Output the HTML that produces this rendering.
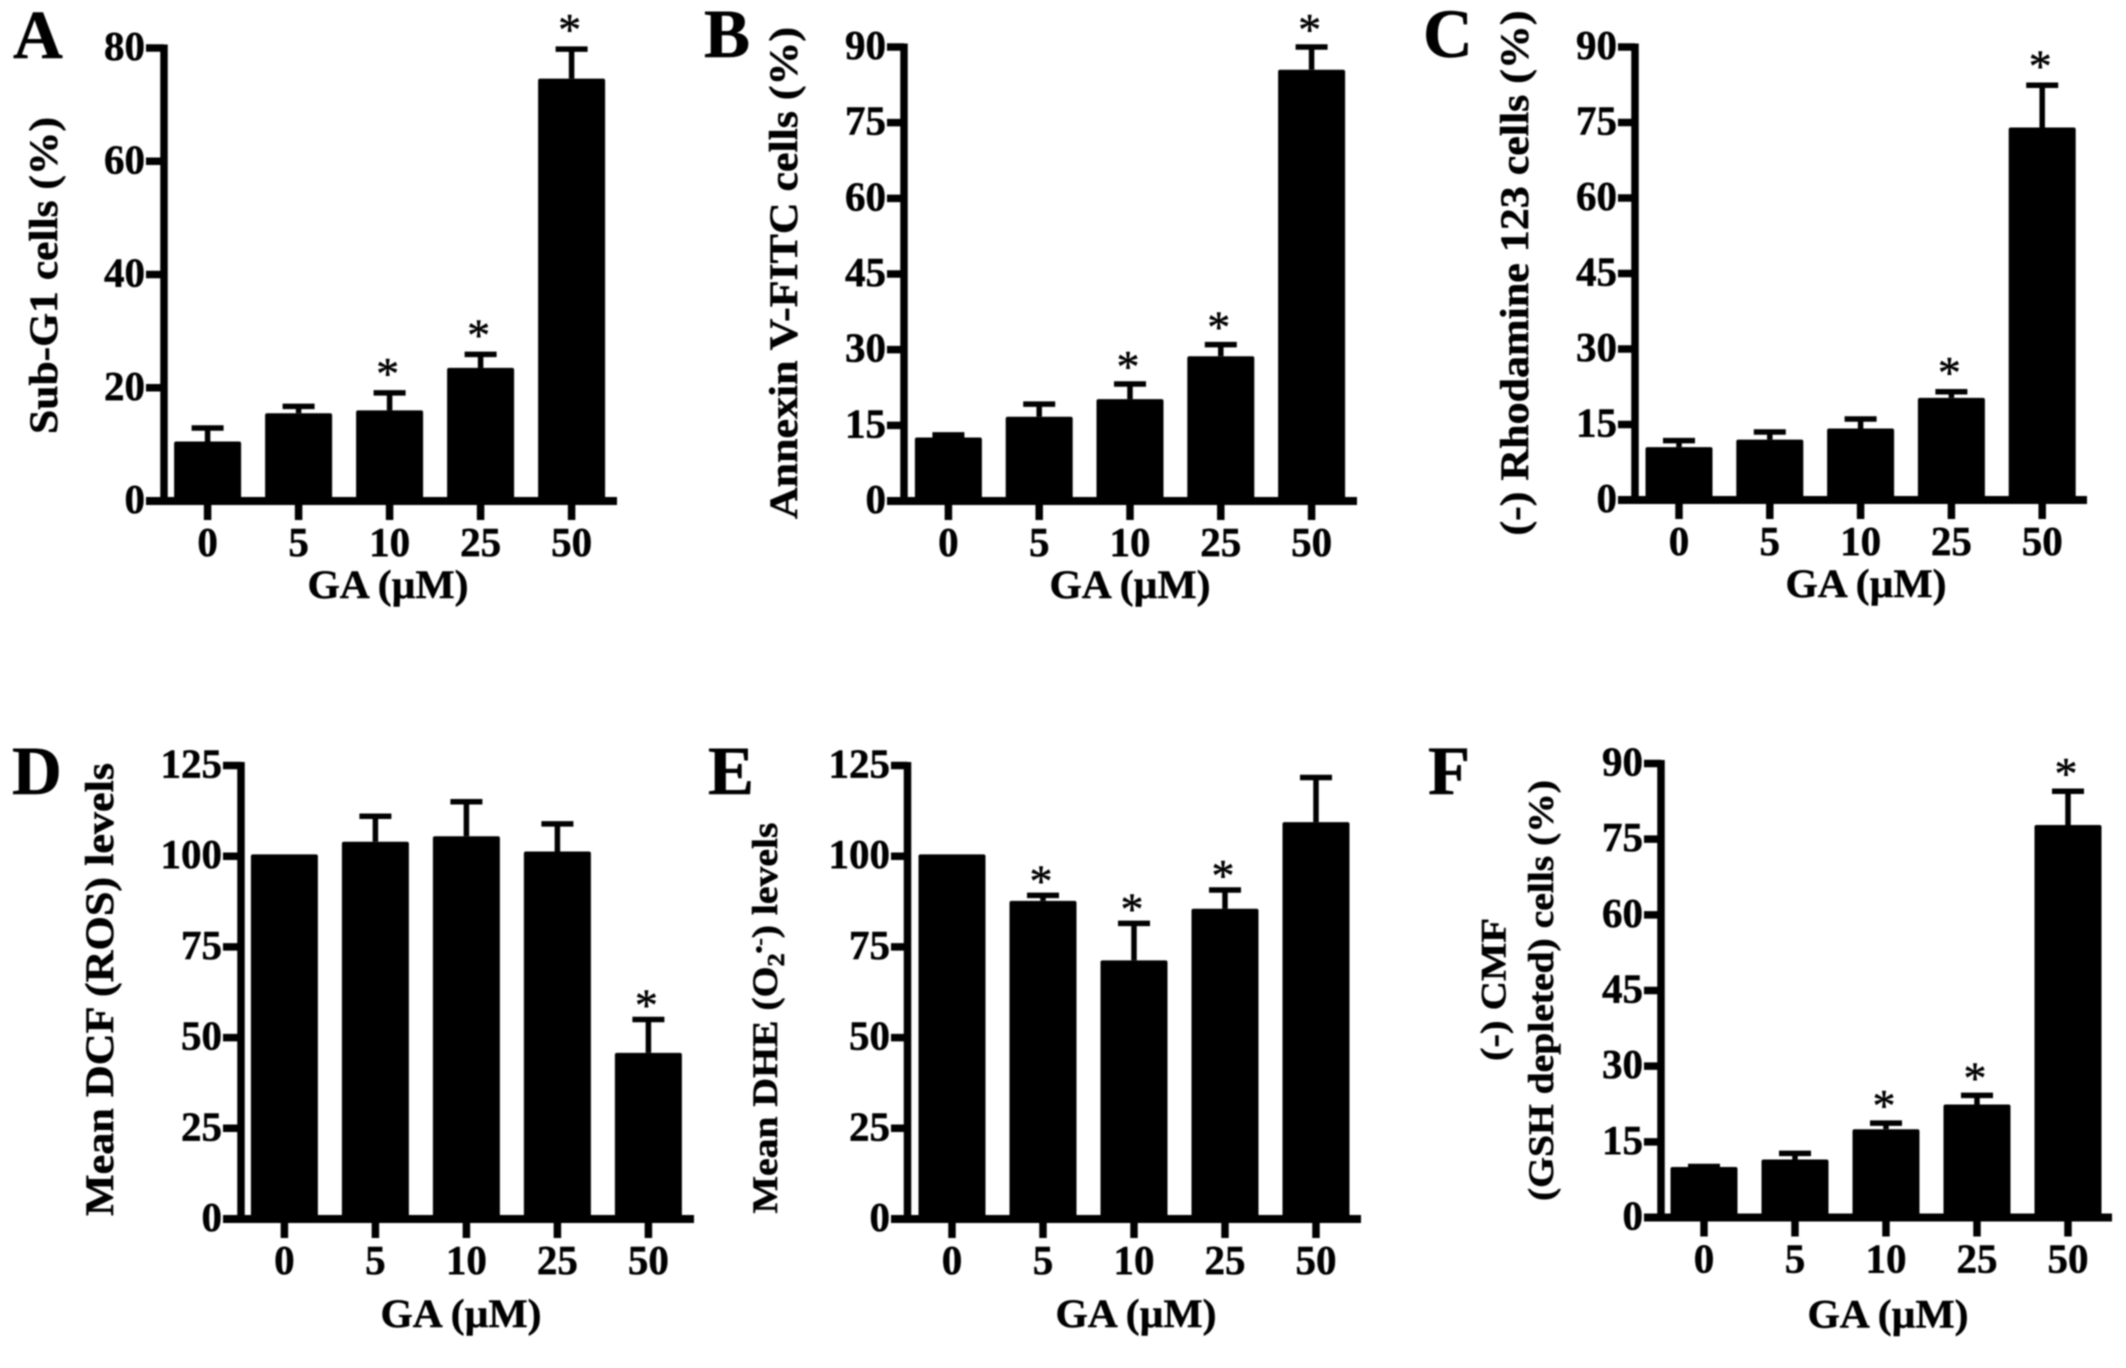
<!DOCTYPE html>
<html lang="en">
<head>
<meta charset="utf-8">
<title>GA dose-response bar charts</title>
<style>
html,body{margin:0;padding:0;background:#fff;}
svg{display:block;filter:blur(0.7px);}
text{font-family:"Liberation Serif",serif;font-weight:bold;fill:#000;stroke:#000;stroke-width:0.5px;}
</style>
</head>
<body>
<svg id="figure" xmlns="http://www.w3.org/2000/svg" width="2126" height="1368" viewBox="0 0 2126 1368"></svg>
<script>
const categories = ["0", "5", "10", "25", "50"];

const panelAValues = [10.5, 15.5, 16, 23.5, 74.6];
const panelAErrors = [2.4, 1.2, 3.1, 2.4, 5.2];
const panelAStars = [false, false, true, true, true];
const panelATicks = [0, 20, 40, 60, 80];

const panelBValues = [12.6, 16.7, 20.2, 28.7, 85.5];
const panelBErrors = [0.5, 2.5, 3.0, 2.3, 4.5];
const panelBStars = [false, false, true, true, true];
const panelBTicks = [0, 15, 30, 45, 60, 75, 90];

const panelCValues = [10.5, 12, 14.2, 20.3, 74];
const panelCErrors = [1.3, 1.5, 1.9, 1.2, 8.4];
const panelCStars = [false, false, false, true, true];
const panelCTicks = [0, 15, 30, 45, 60, 75, 90];

const panelDValues = [100.5, 104, 105.5, 101.3, 45.8];
const panelDErrors = [0, 7, 9.5, 7.6, 9.2];
const panelDStars = [false, false, false, false, true];
const panelDTicks = [0, 25, 50, 75, 100, 125];

const panelEValues = [100.5, 87.7, 71.3, 85.5, 109.4];
const panelEErrors = [0, 1.5, 10.2, 5.2, 12.3];
const panelEStars = [false, true, true, true, false];
const panelETicks = [0, 25, 50, 75, 100, 125];

const panelFValues = [10, 11.5, 17.5, 22.4, 77.8];
const panelFErrors = [0.1, 1.2, 1.2, 1.8, 6.7];
const panelFStars = [false, false, true, true, true];
const panelFTicks = [0, 15, 30, 45, 60, 75, 90];

const NS = "http://www.w3.org/2000/svg";
const root = document.getElementById("figure");

function make(tag, parent, attrs, content) {
  const el = document.createElementNS(NS, tag);
  for (const k in attrs) el.setAttribute(k, attrs[k]);
  if (content !== undefined) el.textContent = content;
  parent.appendChild(el);
  return el;
}

function drawPanel(p) {
  const g = make("g", root, {});
  
  

  const maxTick = p.ticks[p.ticks.length - 1];
  const yScale = v => p.base - (v / maxTick) * (p.base - p.top);
  const xScale = i => p.first + i * p.step;

  const letter = make("text", g, {x: p.letterX, y: p.letterY, "font-size": 69}, p.letter);
  
  

  p.values.forEach((v, i) => {
    const cx = xScale(i);
    const y = yScale(v);
    const bar = make("rect", g, {x: cx - 33.5, y: y, width: 67, height: p.base - y, rx: 2, fill: "#000"});
    
    
    const errTop = yScale(v + p.errors[i]);
    if (p.errors[i] > 0) {
      const stem = make("line", g, {x1: cx, x2: cx, y1: y, y2: errTop, stroke: "#000", "stroke-width": 5.5});
      
      
      const cap = make("line", g, {x1: cx - 16, x2: cx + 16, y1: errTop, y2: errTop, stroke: "#000", "stroke-width": 5.5});
      
      
    }
    if (p.stars[i]) {
      const star = make("text", g, {x: cx - 2, y: errTop - p.starGap + 20, "font-size": 46, "text-anchor": "middle", style: "font-weight:normal"}, "*");
      
      
    }
    const tick = make("line", g, {x1: cx, x2: cx, y1: p.base, y2: p.base + 19, stroke: "#000", "stroke-width": 7.5});
    
    
    const lab = make("text", g, {x: cx, y: p.base + 55, "font-size": 41, "text-anchor": "middle"}, categories[i]);
    
    
  });

  const yAxis = make("line", g, {x1: p.axisX, x2: p.axisX, y1: p.top - 3.5, y2: p.base, stroke: "#000", "stroke-width": 7.5});
  
  
  const xAxis = make("line", g, {x1: p.axisLeft, x2: p.axisRight, y1: p.base, y2: p.base, stroke: "#000", "stroke-width": 8});
  
  

  p.ticks.forEach(t => {
    const y = yScale(t);
    const tick = make("line", g, {x1: p.axisLeft, x2: p.axisX, y1: y, y2: y, stroke: "#000", "stroke-width": 7.5});
    
    
    const lab = make("text", g, {x: p.axisLeft - 1, y: y + 12, "font-size": 41, "text-anchor": "end"}, String(t));
    
    
  });

  const xTitle = make("text", g, {x: p.xTitleX, y: p.base + p.xTitleDy, "font-size": 40, "text-anchor": "middle", textLength: 161, lengthAdjust: "spacingAndGlyphs"}, "GA (\u00B5M)");
  
  

  p.yTitles.forEach(t => {
    const title = make("text", g, {
      x: 0, y: 0, "font-size": t.size, "text-anchor": "middle",
      textLength: t.len, lengthAdjust: "spacingAndGlyphs",
      transform: "translate(" + t.x + " " + t.y + ") rotate(-90)"
    });
    
    
    t.parts.forEach(part => {
      const span = make("tspan", title, part.dy ? {dy: part.dy, "font-size": part.size} : {}, part.text);
      
      
    });
  });
}

drawPanel({letter: "A", letterX: 13, letterY: 58, values: panelAValues, errors: panelAErrors, stars: panelAStars, ticks: panelATicks,
  axisX: 164, axisLeft: 146, axisRight: 617, top: 48, base: 501, first: 207.6, step: 91, starGap: 24, xTitleX: 388, xTitleDy: 97,
  yTitles: [{x: 57, y: 275.5, len: 317, size: 40, parts: [{text: "Sub-G1 cells (%)"}]}]});

drawPanel({letter: "B", letterX: 704, letterY: 57, values: panelBValues, errors: panelBErrors, stars: panelBStars, ticks: panelBTicks,
  axisX: 904, axisLeft: 887, axisRight: 1357, top: 47, base: 501, first: 948.4, step: 90.8, starGap: 22, xTitleX: 1130, xTitleDy: 97,
  yTitles: [{x: 797, y: 273, len: 492, size: 40, parts: [{text: "Annexin V-FITC cells (%)"}]}]});

drawPanel({letter: "C", letterX: 1423, letterY: 57, values: panelCValues, errors: panelCErrors, stars: panelCStars, ticks: panelCTicks,
  axisX: 1635, axisLeft: 1618, axisRight: 2087, top: 47, base: 500, first: 1679, step: 90.8, starGap: 24, xTitleX: 1866, xTitleDy: 97,
  yTitles: [{x: 1528, y: 273, len: 525, size: 40, parts: [{text: "(-) Rhodamine 123 cells (%)"}]}]});

drawPanel({letter: "D", letterX: 12, letterY: 794, values: panelDValues, errors: panelDErrors, stars: panelDStars, ticks: panelDTicks,
  axisX: 241, axisLeft: 223, axisRight: 694, top: 765.5, base: 1219, first: 284.4, step: 91, starGap: 19, xTitleX: 461, xTitleDy: 108,
  yTitles: [{x: 113, y: 989.5, len: 453, size: 40, parts: [{text: "Mean DCF (ROS) levels"}]}]});

drawPanel({letter: "E", letterX: 708, letterY: 794, values: panelEValues, errors: panelEErrors, stars: panelEStars, ticks: panelETicks,
  axisX: 907.5, axisLeft: 891, axisRight: 1361, top: 765.5, base: 1219, first: 952, step: 91, starGap: 19, xTitleX: 1136, xTitleDy: 108,
  yTitles: [{x: 777, y: 1018, len: 391, size: 36, parts: [
    {text: "Mean DHE (O"},
    {text: "2", dy: 7, size: 24},
    {text: "\u2022-", dy: -18, size: 20},
    {text: ") levels", dy: 11, size: 36}
  ]}]});

drawPanel({letter: "F", letterX: 1428, letterY: 794, values: panelFValues, errors: panelFErrors, stars: panelFStars, ticks: panelFTicks,
  axisX: 1661, axisLeft: 1644, axisRight: 2112, top: 763.5, base: 1217.5, first: 1704, step: 91, starGap: 22, xTitleX: 1888, xTitleDy: 110,
  yTitles: [
    {x: 1505.5, y: 989.5, len: 143, size: 36, parts: [{text: "(-) CMF"}]},
    {x: 1553, y: 990.5, len: 421, size: 36, parts: [{text: "(GSH depleted) cells (%)"}]}
  ]});
</script>
</body>
</html>
